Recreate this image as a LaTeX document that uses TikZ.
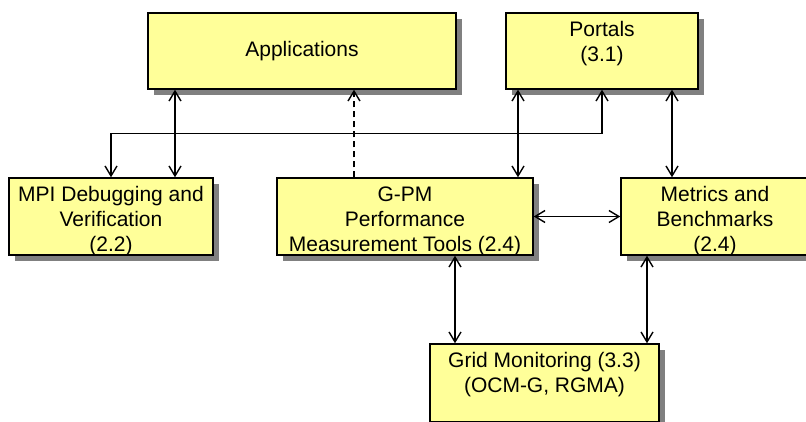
\documentclass[tikz,border=0pt]{standalone}
\usepackage{fontspec}
\setmainfont{Liberation Sans}
\usetikzlibrary{arrows.meta,shadows}
\definecolor{boxfill}{HTML}{FFFF99}
\definecolor{shadowgray}{HTML}{808080}
\begin{document}
\begin{tikzpicture}[x=1pt,y=-1pt,
  box/.style={draw=black, line width=1.4pt, fill=boxfill,
    general shadow={fill=shadowgray, shadow xshift=6pt, shadow yshift=-6pt},
    minimum height=77pt, inner sep=0pt},
  txt/.style={anchor=north, inner sep=0pt, align=center,
    font=\fontsize{21}{25}\selectfont, yshift=-6pt},
  arr/.style={line width=1.4pt, {Straight Barb[length=10pt,width=12pt]}-{Straight Barb[length=10pt,width=12pt]}},
  darr/.style={line width=1.4pt, dash pattern=on 6pt off 4pt, -{Straight Barb[length=10pt,width=12pt]}},
]
\clip (0,0) rectangle (806,421);
% boxes
\node[box, minimum width=308pt, minimum height=76pt, font=\fontsize{21}{25}\selectfont] (apps) at (302,51) {Applications};
\node[box, minimum width=192pt, minimum height=76pt] (portals) at (602,51) {};
\node[box, minimum width=204pt] (mpi) at (111,216.5) {};
\node[box, minimum width=256pt] (gpm) at (405,216.5) {};
\node[box, minimum width=188pt] (metrics) at (715,216.5) {};
\node[box, minimum width=229pt, minimum height=78pt] (grid) at (544.5,383) {};
% texts
\node[txt] (portalstxt) at (portals.north) {\strut Portals\\(3.1)};
\node[txt] (mpitxt) at (mpi.north) {\strut MPI Debugging and\\Verification\\(2.2)};
\node[txt] (gpmtxt) at (gpm.north) {\strut G-PM\\Performance\\Measurement Tools (2.4)};
\node[txt] (metricstxt) at (metrics.north) {\strut Metrics and\\Benchmarks\\(2.4)};
\node[txt] (gridtxt) at (grid.north) {\strut Grid Monitoring (3.3)\\(OCM-G, RGMA)};
% connectors
\draw[arr] ([xshift=-127pt]apps.south) -- ([xshift=64pt]mpi.north);
\draw[darr] ([xshift=-51pt]gpm.north) -- ([xshift=52pt]apps.south);
\draw[arr] ([xshift=-84pt]portals.south) -- ([xshift=113pt]gpm.north);
\draw[arr] (portals.south) -- ++(0,44) -| (mpi.north);
\draw[arr] ([xshift=70pt]portals.south) -- ([xshift=-43pt]metrics.north);
\draw[arr] (gpm.east) -- (metrics.west);
\draw[arr] ([xshift=50pt]gpm.south) -- ([xshift=-89.5pt]grid.north);
\draw[arr] ([xshift=-68pt]metrics.south) -- ([xshift=102.5pt]grid.north);
\end{tikzpicture}
\end{document}
